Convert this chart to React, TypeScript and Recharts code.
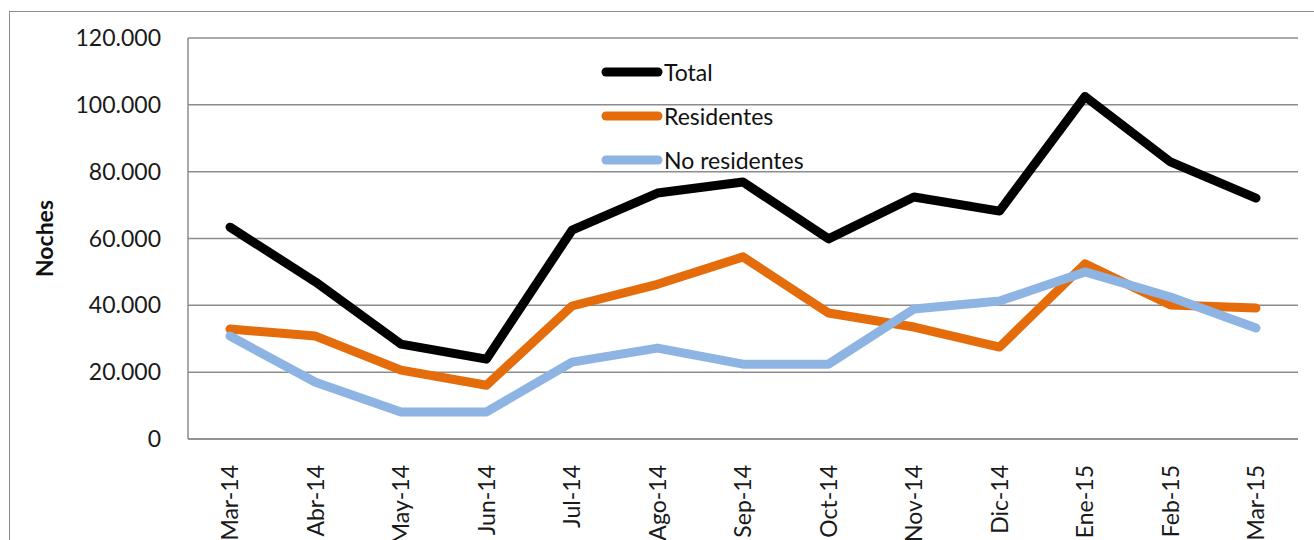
import { CartesianGrid, Line, LineChart, XAxis, YAxis } from "recharts";

// Nights per month, Mar-14 .. Mar-15, split by residents / non-residents.

const MONTHS = [
  "Mar-14", "Abr-14", "May-14", "Jun-14", "Jul-14", "Ago-14", "Sep-14",
  "Oct-14", "Nov-14", "Dic-14", "Ene-15", "Feb-15", "Mar-15",
];
const TOTAL = [63400, 47000, 28400, 23900, 62500, 73600, 76900, 59900, 72400, 68200, 102500, 82900, 72100];
const RESIDENTES = [32900, 30800, 20600, 16100, 39800, 46300, 54500, 37700, 33500, 27500, 52400, 40100, 39200];
const NO_RESIDENTES = [30800, 17000, 8100, 8100, 23000, 27200, 22400, 22400, 38900, 41300, 50000, 42500, 33200];
const Y_TICKS = [0, 20000, 40000, 60000, 80000, 100000, 120000];

const SERIES = [
  { key: "total", label: "Total", color: "#000000" },
  { key: "res", label: "Residentes", color: "#E46C0A" },
  { key: "nores", label: "No residentes", color: "#8EB4E3" },
] as const;

const data = MONTHS.map((m, i) => ({
  month: m,
  total: TOTAL[i],
  res: RESIDENTES[i],
  nores: NO_RESIDENTES[i],
}));

const FONT = "Lato, 'Liberation Sans', sans-serif";

const fmt = (v: number) => v.toLocaleString("de-DE");

function MonthTick({ x, y, payload }: any) {
  return (
    <text
      x={0}
      y={0}
      transform={`translate(${x},${y + 18}) rotate(-90)`}
      textAnchor="end"
      dy="0.35em"
      fontSize={23}
      fill="#1a1a1a"
      fontFamily={FONT}
    >
      {payload.value}
    </text>
  );
}

// legend sits inside the plot area, like the original Excel chart
function LegendBox() {
  return (
    <div style={{ position: "absolute", left: 600, top: 50, fontFamily: FONT, fontSize: 23, color: "#111", background: "transparent" }}>
      {SERIES.map((s) => (
        <div key={s.key} style={{ display: "flex", alignItems: "center", height: 44, lineHeight: "44px" }}>
          <svg width={64} height={12}>
            <line x1={6} y1={6} x2={58} y2={6} stroke={s.color} strokeWidth={9} strokeLinecap="round" />
          </svg>
          <span>{s.label}</span>
        </div>
      ))}
    </div>
  );
}

export default function App() {
  return (
    <div style={{ position: "absolute", left: 0, top: 0, width: 1314, height: 540, overflow: "hidden", background: "#fff" }}>
      <div
        style={{
          position: "absolute",
          left: 9,
          top: 11,
          width: 1305,
          height: 529,
          borderLeft: "1.5px solid #8c8c8c",
          borderTop: "1.5px solid #8c8c8c",
        }}
      />
      <div style={{ position: "absolute", left: 0, top: 0 }}>
        <LineChart
          width={1314}
          height={540}
          data={data}
          margin={{ top: 38, right: 16, bottom: 0, left: 108 }}
        >
          <CartesianGrid vertical={false} stroke="#8c8c8c" strokeWidth={1.5} />
          <XAxis
            dataKey="month"
            height={101}
            tick={<MonthTick />}
            tickLine={false}
            axisLine={{ stroke: "#8c8c8c", strokeWidth: 1.5 }}
            padding={{ left: 42, right: 42 }}
            interval={0}
          />
          <YAxis
            width={80}
            domain={[0, 120000]}
            ticks={Y_TICKS}
            tickFormatter={fmt}
            tickLine={false}
            axisLine={{ stroke: "#8c8c8c", strokeWidth: 1.5 }}
            tick={{ fontSize: 23, fill: "#1a1a1a", fontFamily: FONT, dx: -19 }}
            label={{
              value: "Noches",
              angle: -90,
              position: "insideLeft",
              dx: -68,
              style: { fontSize: 23, fontWeight: "bold", fill: "#111", fontFamily: FONT, textAnchor: "middle" },
            }}
          />
          {SERIES.map((s) => (
            <Line
              key={s.key}
              dataKey={s.key}
              name={s.label}
              stroke={s.color}
              strokeWidth={9}
              strokeLinecap="round"
              strokeLinejoin="round"
              dot={false}
              activeDot={false}
              isAnimationActive={false}
            />
          ))}
        </LineChart>
      </div>
      <LegendBox />
    </div>
  );
}
